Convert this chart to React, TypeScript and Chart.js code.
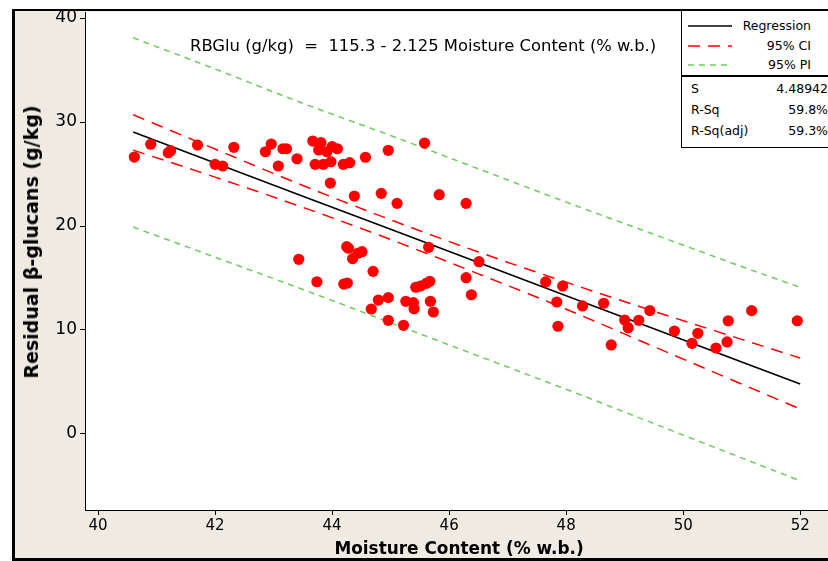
import React, { useEffect, useRef } from "react";
import { Chart, registerables } from "chart.js";

Chart.register(...registerables);

// Scatter data: moisture content (% w.b.) vs residual beta-glucans (g/kg)
const moisture = [
  40.62, 40.9, 41.2, 41.24, 41.7, 42.0, 42.13, 42.32, 42.86, 42.96,
  43.08, 43.16, 43.22, 43.4, 43.67, 43.81, 43.77, 43.71, 43.85, 44.0,
  44.09, 43.91, 43.98, 44.19, 44.3, 44.57, 44.96, 45.58, 43.97, 44.38,
  44.84, 45.11, 45.83, 46.29, 44.25, 44.28, 44.44, 44.51, 44.35, 43.43,
  43.74, 44.2, 44.26, 44.7, 45.65, 46.51, 46.29, 46.38, 45.43, 45.51,
  45.61, 45.67, 44.79, 44.96, 44.67, 45.26, 45.39, 45.4, 45.68, 45.73,
  44.96, 45.22, 47.65, 47.94, 47.84, 47.86, 48.28, 48.64, 49.0, 49.06,
  49.24, 49.43, 48.77, 49.85, 50.25, 50.15, 50.56, 50.75, 50.77, 51.17,
  51.95,
];
const glucans = [
  26.63, 27.86, 27.05, 27.24, 27.79, 25.93, 25.77, 27.57, 27.14, 27.88,
  25.77, 27.43, 27.43, 26.47, 28.17, 28.01, 27.31, 25.93, 25.93, 27.63,
  27.43, 27.14, 26.18, 25.93, 26.09, 26.61, 27.28, 27.98, 24.13, 22.88,
  23.14, 22.18, 23.01, 22.18, 18.01, 17.86, 17.38, 17.53, 16.86, 16.8,
  14.64, 14.42, 14.52, 15.64, 17.95, 16.57, 15.03, 13.39, 14.11, 14.23,
  14.49, 14.68, 12.88, 13.11, 12.02, 12.76, 12.63, 12.05, 12.76, 11.73,
  10.93, 10.45, 14.62, 14.23, 12.69, 10.36, 12.31, 12.57, 10.96, 10.22,
  10.93, 11.86, 8.56, 9.9, 9.68, 8.72, 8.27, 8.85, 10.89, 11.86,
  10.89,
];

// Fitted line and bands, read at these moisture values
const lineX = [40.6, 42, 43.5, 45, 46.5, 48, 49.5, 51, 52.0];
const regression = [29.03, 26.05, 22.86, 19.68, 16.49, 13.3, 10.11, 6.93, 4.8];
const ciUpper = [30.7, 27.4, 23.9, 20.6, 17.5, 14.6, 11.8, 9.1, 7.3];
const ciLower = [27.3, 24.7, 21.8, 18.7, 15.4, 12.0, 8.4, 4.8, 2.4];
const piUpper = [38.1, 35.1, 31.8, 28.7, 25.5, 22.3, 19.2, 16.1, 14.1];
const piLower = [19.9, 17.0, 13.9, 10.7, 7.5, 4.3, 1.0, -2.3, -4.5];

const xTicks = [40, 42, 44, 46, 48, 50, 52];
const yTicks = [0, 10, 20, 30, 40];

const legendItems = ["Regression", "95% CI", "95% PI"];
const statNames = ["S", "R-Sq", "R-Sq(adj)"];
const statValues = ["4.48942", "59.8%", "59.3%"];

const equation = "RBGlu (g/kg)  =  115.3 - 2.125 Moisture Content (% w.b.)";
const xTitle = "Moisture Content (% w.b.)";
const yTitle = "Residual \u03b2-glucans (g/kg)";

const BEIGE = "#EFEBE2";
const FONT = "'DejaVu Sans', Verdana, sans-serif";
const CANVAS_W = 838;

const toXY = (xs: number[], ys: number[]) => xs.map((x, i) => ({ x, y: ys[i] }));

const bgPlugin = {
  id: "bgPlugin",
  beforeDraw(chart: any) {
    const { ctx, chartArea: a, width, height } = chart;
    ctx.save();
    ctx.fillStyle = "#ffffff";
    ctx.fillRect(0, 0, width, height);
    ctx.fillStyle = BEIGE;
    ctx.fillRect(12, 9, width, 551);
    ctx.fillStyle = "#ffffff";
    ctx.fillRect(a.left, a.top, a.right - a.left, a.bottom - a.top);
    ctx.restore();
  },
  afterDraw(chart: any) {
    const { ctx, width } = chart;
    ctx.save();
    ctx.fillStyle = "#000";
    ctx.fillRect(12, 9, 3, 551);
    ctx.fillRect(12, 9, width, 2);
    ctx.fillRect(12, 558, width, 3);
    ctx.restore();
  },
};

export default function App() {
  const ref = useRef<HTMLCanvasElement | null>(null);

  useEffect(() => {
    if (!ref.current) return;
    const chart = new Chart(ref.current, {
      type: "scatter",
      data: {
        datasets: [
          {
            label: "Data",
            data: toXY(moisture, glucans),
            backgroundColor: "#ff0000",
            borderWidth: 0,
            pointRadius: 5.6,
            showLine: false,
            order: 0,
          },
          {
            label: "Regression",
            data: toXY(lineX, regression),
            borderColor: "#000000",
            borderWidth: 1.6,
            pointRadius: 0,
            showLine: true,
            order: 1,
          },
          {
            label: "95% CI upper",
            data: toXY(lineX, ciUpper),
            borderColor: "#ff0000",
            borderWidth: 1.5,
            borderDash: [12, 8],
            pointRadius: 0,
            showLine: true,
            cubicInterpolationMode: "monotone",
            order: 1,
          },
          {
            label: "95% CI lower",
            data: toXY(lineX, ciLower),
            borderColor: "#ff0000",
            borderWidth: 1.5,
            borderDash: [12, 8],
            pointRadius: 0,
            showLine: true,
            cubicInterpolationMode: "monotone",
            order: 1,
          },
          {
            label: "95% PI upper",
            data: toXY(lineX, piUpper),
            borderColor: "#6ccc5c",
            borderWidth: 1.5,
            borderDash: [6, 5],
            pointRadius: 0,
            showLine: true,
            cubicInterpolationMode: "monotone",
            order: 1,
          },
          {
            label: "95% PI lower",
            data: toXY(lineX, piLower),
            borderColor: "#6ccc5c",
            borderWidth: 1.5,
            borderDash: [6, 5],
            pointRadius: 0,
            showLine: true,
            cubicInterpolationMode: "monotone",
            order: 1,
          },
        ],
      },
      options: {
        animation: false,
        responsive: false,
        maintainAspectRatio: false,
        devicePixelRatio: 1,
        layout: { padding: { left: 12, top: 12, right: 0, bottom: 4 } },
        plugins: {
          legend: { display: false },
          tooltip: { enabled: false },
          title: { display: false },
        },
        scales: {
          x: {
            type: "linear",
            min: 39.777,
            max: 52.55,
            afterBuildTicks: (scale: any) => {
              scale.ticks = xTicks.map((v) => ({ value: v }));
            },
            afterFit: (scale: any) => {
              scale.height = 47;
              scale.paddingLeft = 0;
              scale.paddingRight = 0;
            },
            grid: {
              drawOnChartArea: false,
              drawTicks: true,
              tickLength: 5,
              color: "#000",
            },
            border: { display: true, color: "#000", width: 1 },
            ticks: {
              color: "#000",
              font: { family: FONT, size: 15 },
              padding: 2,
              maxRotation: 0,
              autoSkip: false,
            },
          },
          y: {
            type: "linear",
            min: -7.31,
            max: 40.58,
            afterBuildTicks: (scale: any) => {
              scale.ticks = yTicks.map((v) => ({ value: v }));
            },
            afterFit: (scale: any) => {
              scale.width = 73;
              scale.paddingTop = 0;
              scale.paddingBottom = 0;
            },
            grid: {
              drawOnChartArea: false,
              drawTicks: true,
              tickLength: 5,
              color: "#000",
            },
            border: { display: true, color: "#000", width: 1 },
            ticks: {
              color: "#000",
              font: { family: FONT, size: 17 },
              padding: 3,
              autoSkip: false,
            },
          },
        },
      },
      plugins: [bgPlugin],
    } as any);
    return () => chart.destroy();
  }, []);

  const legendLine = (i: number) => {
    const colors = ["#000", "#ff0000", "#6ccc5c"];
    const dash = ["", "12 8", "6 5"];
    return (
      <svg width={44} height={6} style={{ position: "absolute", left: 6, top: 0 }}>
        <line
          x1={0}
          y1={3}
          x2={44}
          y2={3}
          stroke={colors[i]}
          strokeWidth={1.5}
          strokeDasharray={dash[i] || undefined}
        />
      </svg>
    );
  };

  return (
    <div
      style={{
        position: "fixed",
        left: 0,
        top: 0,
        width: 828,
        height: 561,
        overflow: "hidden",
        background: "#fff",
      }}
    >
      <canvas
        ref={ref}
        width={CANVAS_W}
        height={561}
        style={{ position: "absolute", left: 0, top: 0, width: CANVAS_W, height: 561 }}
      />
      <div
        style={{
          position: "absolute",
          left: 190,
          top: 36,
          fontFamily: FONT,
          fontSize: 16.4,
          whiteSpace: "pre",
          color: "#000",
          lineHeight: "20px",
        }}
      >
        {equation}
      </div>
      <div
        style={{
          position: "absolute",
          left: 459,
          top: 548,
          transform: "translate(-50%, -50%)",
          fontFamily: FONT,
          fontWeight: "bold",
          fontSize: 16.9,
          whiteSpace: "nowrap",
          color: "#000",
        }}
      >
        {xTitle}
      </div>
      <div
        style={{
          position: "absolute",
          left: 31,
          top: 242,
          transform: "translate(-50%, -50%) rotate(-90deg)",
          fontFamily: FONT,
          fontWeight: "bold",
          fontSize: 19,
          whiteSpace: "nowrap",
          color: "#000",
        }}
      >
        {yTitle}
      </div>
      <div
        style={{
          position: "absolute",
          left: 681,
          top: 11,
          width: 160,
          height: 136,
          borderLeft: "1.5px solid #000",
          borderBottom: "1.5px solid #000",
          background: "#fff",
          fontFamily: FONT,
          fontSize: 12.5,
          color: "#000",
        }}
      >
        {legendItems.map((t, i) => (
          <div
            key={t}
            style={{ position: "absolute", left: 0, top: 7 + i * 19.5, width: 146, height: 16 }}
          >
            <div style={{ position: "absolute", left: 0, top: 5, width: 60, height: 6 }}>
              {legendLine(i)}
            </div>
            <div style={{ position: "absolute", right: 17, top: 0, whiteSpace: "nowrap", lineHeight: "16px" }}>
              {t}
            </div>
          </div>
        ))}
        <div
          style={{ position: "absolute", left: 0, top: 64, width: 160, height: 2, background: "#000" }}
        />
        {statNames.map((t, i) => (
          <div
            key={t}
            style={{ position: "absolute", left: 0, top: 70 + i * 21, width: 146, height: 16, lineHeight: "16px" }}
          >
            <span style={{ position: "absolute", left: 9 }}>{t}</span>
            <span style={{ position: "absolute", right: 0 }}>{statValues[i]}</span>
          </div>
        ))}
      </div>
    </div>
  );
}
